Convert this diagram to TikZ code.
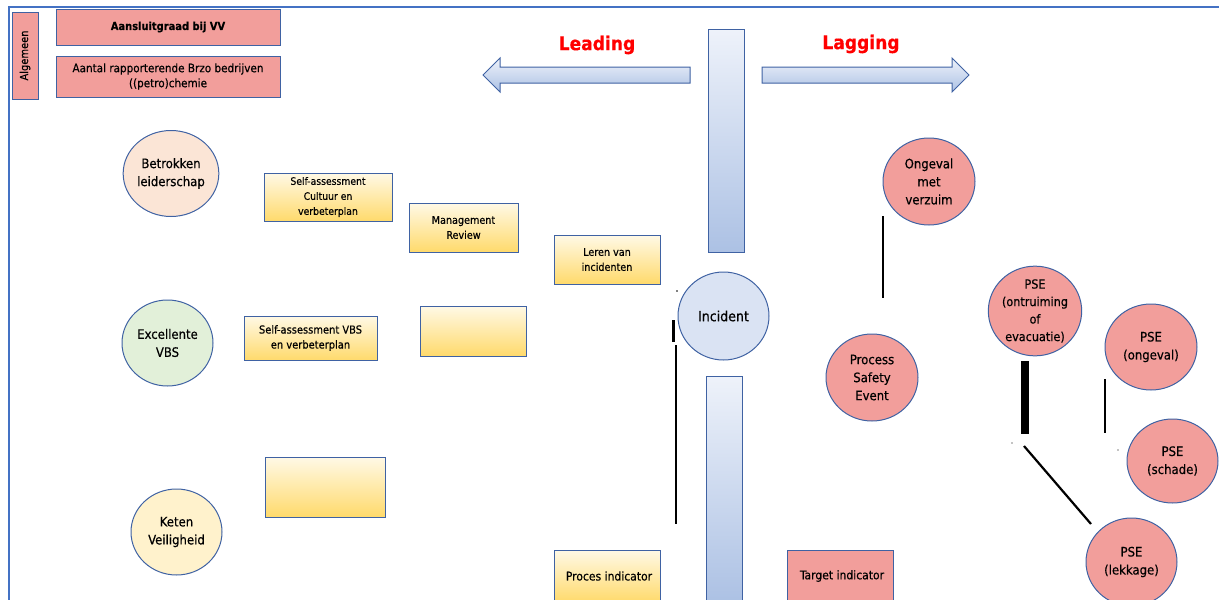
\documentclass[tikz,border=0pt]{standalone}
\usepackage{fontspec}
\setmainfont{DejaVu Sans Condensed}[FakeBold=0.4]
\usetikzlibrary{shapes.geometric}
\definecolor{frameblue}{HTML}{4472C4}
\definecolor{edgeblue}{HTML}{3F62A3}
\definecolor{salmon}{HTML}{F29E9B}
\definecolor{peach}{HTML}{FBE5D6}
\definecolor{mint}{HTML}{E2F0D9}
\definecolor{cream}{HTML}{FFF2CC}
\definecolor{incblue}{HTML}{DAE3F3}
\definecolor{ylight}{HTML}{FFF9E6}
\definecolor{ydark}{HTML}{FFDA6C}
\definecolor{blight}{HTML}{EEF2FA}
\definecolor{bdark}{HTML}{ACC1E4}
\definecolor{leadred}{HTML}{FF0000}
\tikzset{
  box/.style={draw=edgeblue, line width=1pt, inner sep=1pt, align=center, font=\fontsize{10.7}{15}\selectfont},
  pinkbox/.style={box, fill=salmon},
  yelbox/.style={box, top color=ylight, bottom color=ydark},
  bar/.style={draw=edgeblue, line width=1pt, top color=blight, bottom color=bdark},
  circ/.style={ellipse, draw=edgeblue, line width=1pt, inner sep=0pt, align=center, font=\fontsize{13}{18}\selectfont},
  pinkcirc/.style={circ, fill=salmon},
  link/.style={black, line width=2.4pt},
  bigarrow/.style={draw=edgeblue, line width=1pt, top color=blight, bottom color=bdark},
  lbl/.style={text=leadred, font=\fontsize{19}{22}\selectfont\bfseries}
}
\begin{document}
\begin{tikzpicture}[x=1pt,y=-1pt]
\useasboundingbox (0,0) rectangle (1219,600);
% frame
\coordinate (fa) at (9,600);
\coordinate (fb) at (9,7);
\coordinate (fc) at (1219,7);
\draw[frameblue, line width=2pt] (fa) -- (fb) -- (fc);

% top-left boxes
\node[pinkbox, minimum width=26pt, minimum height=87pt] (alg) at (25,55.5) {};
\node[rotate=90, font=\fontsize{11}{12}\selectfont] (algt) at (alg.center) {Algemeen};
\node[pinkbox, minimum width=224pt, minimum height=36pt, font=\fontsize{11}{14}\selectfont\bfseries] (aans) at (168,27) {Aansluitgraad bij VV};
\node[pinkbox, minimum width=224pt, minimum height=41pt, font=\fontsize{11.6}{15}\selectfont] (aant) at (168,76.5) {Aantal rapporterende Brzo bedrijven\\((petro)chemie};

% big arrows
\draw[bigarrow] (690,67) -- (500,67) -- (500,58) -- (483,75) -- (500,92) -- (500,83) -- (690,83) -- cycle;
\draw[bigarrow] (762,67) -- (952,67) -- (952,58) -- (969,75) -- (952,92) -- (952,83) -- (762,83) -- cycle;
\node[lbl] (lead) at (597,45) {Leading};
\node[lbl] (lag) at (861,44) {Lagging};

% vertical bars
\draw[bar] (708,29) rectangle (744,252);
\draw[bar] (706,376) rectangle (742,602);

% left circles
\node[circ, fill=peach, minimum width=92pt, minimum height=86pt] (betr) at (171,173.5) {Betrokken\\leiderschap};
\node[circ, fill=mint, minimum width=91pt, minimum height=86pt] (exc) at (167.5,343) {Excellente\\VBS};
\node[circ, fill=cream, minimum width=91pt, minimum height=86pt] (ket) at (176.5,532) {Keten\\Veiligheid};

% yellow boxes
\node[yelbox, minimum width=128pt, minimum height=48pt, font=\fontsize{10.3}{15}\selectfont] (sac) at (328,197) {Self-assessment\\Cultuur en\\verbeterplan};
\node[yelbox, minimum width=109pt, minimum height=49pt] (mr) at (463.5,227.5) {Management\\Review};
\node[yelbox, minimum width=106pt, minimum height=49pt] (lvi) at (607,259.5) {Leren van\\incidenten};
\node[yelbox, minimum width=133pt, minimum height=44pt, font=\fontsize{11}{15}\selectfont] (savbs) at (310.5,338) {Self-assessment VBS\\en verbeterplan};
\node[yelbox, minimum width=106pt, minimum height=50pt] (emp1) at (473,331) {};
\node[yelbox, minimum width=120pt, minimum height=60pt] (emp2) at (325,487) {};
\node[yelbox, minimum width=106pt, minimum height=52pt, font=\fontsize{12}{14}\selectfont] (proc) at (607,576) {\hspace*{4pt}Proces indicator};
\node[pinkbox, minimum width=106pt, minimum height=52pt, font=\fontsize{12}{14}\selectfont] (targ) at (840,576) {\hspace*{4pt}Target indicator};

% incident
\node[circ, fill=incblue, minimum width=91pt, minimum height=88pt, font=\fontsize{14}{17}\selectfont] (inc) at (723.5,316) {Incident};

% lagging circles
\node[pinkcirc, minimum width=92pt, minimum height=87pt] (ong) at (929,181.5) {Ongeval\\met\\verzuim};
\node[pinkcirc, minimum width=92pt, minimum height=87pt] (pse) at (872,377.5) {Process\\Safety\\Event};
\node[pinkcirc, minimum width=92pt, minimum height=86pt, font=\fontsize{12.5}{17.5}\selectfont] (pseo) at (1035,311) {PSE\\(ontruiming\\of\\evacuatie)};
\node[pinkcirc, minimum width=92pt, minimum height=86pt] (pseg) at (1151,347) {PSE\\(ongeval)};
\node[pinkcirc, minimum width=91pt, minimum height=84pt] (pses) at (1172.5,461) {PSE\\(schade)};
\node[pinkcirc, minimum width=91pt, minimum height=88pt] (psel) at (1131.5,562) {PSE\\(lekkage)};

% connector fragments
\coordinate (c1a) at (883,216);
\coordinate (c1b) at (883,298);
\draw[link] (c1a) -- (c1b);
\coordinate (c2a) at (673,320);
\coordinate (c2b) at (673,342);
\draw[black, line width=3pt] (c2a) -- (c2b);
\coordinate (c3a) at (676,345);
\coordinate (c3b) at (676,524);
\draw[link] (c3a) -- (c3b);
\coordinate (c4a) at (1025,361);
\coordinate (c4b) at (1025,434);
\draw[black, line width=8pt] (c4a) -- (c4b);
\coordinate (c5a) at (1105,379);
\coordinate (c5b) at (1105,433);
\draw[link, line width=2pt] (c5a) -- (c5b);
\coordinate (c6a) at (1024,446);
\coordinate (c6b) at (1091,524);
\draw[link, line width=2.2pt] (c6a) -- (c6b);
\coordinate (d1) at (677,291);
\coordinate (d2) at (1012,443);
\coordinate (d3) at (1118,450);
\fill[black] (d1) circle (0.8pt);
\fill[black] (d2) circle (0.7pt);
\fill[black] (d3) circle (0.7pt);
\end{tikzpicture}
\end{document}
